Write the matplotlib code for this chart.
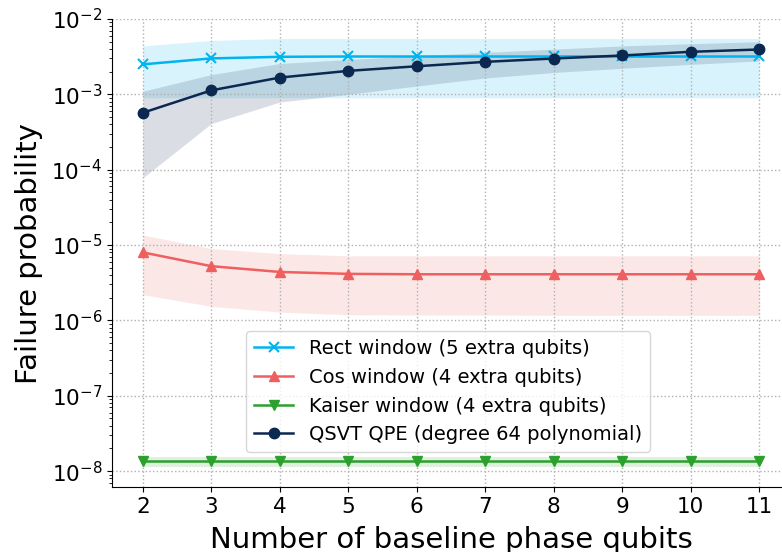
import matplotlib
matplotlib.use("Agg")
import matplotlib.pyplot as plt
import numpy as np

qubits = [2, 3, 4, 5, 6, 7, 8, 9, 10, 11]

rect_mean = [2.5e-3, 3.0e-3, 3.15e-3, 3.18e-3, 3.18e-3, 3.18e-3, 3.18e-3, 3.18e-3, 3.18e-3, 3.18e-3]
rect_hi = [4.4e-3, 5.2e-3, 5.5e-3, 5.5e-3, 5.5e-3, 5.5e-3, 5.5e-3, 5.5e-3, 5.5e-3, 5.5e-3]
rect_lo = [9.0e-4, 9.0e-4, 9.0e-4, 9.0e-4, 9.0e-4, 9.0e-4, 9.0e-4, 9.0e-4, 9.0e-4, 9.0e-4]

cos_mean = [8.0e-6, 5.25e-6, 4.4e-6, 4.15e-6, 4.1e-6, 4.1e-6, 4.1e-6, 4.1e-6, 4.1e-6, 4.1e-6]
cos_hi = [1.36e-5, 9.0e-6, 7.7e-6, 7.2e-6, 7.2e-6, 7.2e-6, 7.2e-6, 7.2e-6, 7.2e-6, 7.2e-6]
cos_lo = [2.2e-6, 1.54e-6, 1.29e-6, 1.19e-6, 1.18e-6, 1.18e-6, 1.17e-6, 1.17e-6, 1.17e-6, 1.17e-6]

kaiser_mean = [1.35e-8] * 10
kaiser_hi = [1.55e-8] * 10
kaiser_lo = [1.15e-8] * 10

qsvt_mean = [5.7e-4, 1.13e-3, 1.67e-3, 2.05e-3, 2.36e-3, 2.7e-3, 2.99e-3, 3.28e-3, 3.67e-3, 3.94e-3]
qsvt_hi = [1.1e-3, 1.83e-3, 2.57e-3, 2.9e-3, 3.25e-3, 3.6e-3, 3.98e-3, 4.4e-3, 4.7e-3, 5.0e-3]
qsvt_lo = [7.8e-5, 4.1e-4, 7.9e-4, 1.0e-3, 1.29e-3, 1.65e-3, 1.95e-3, 2.22e-3, 2.5e-3, 2.78e-3]

labels = ["Rect window (5 extra qubits)", "Cos window (4 extra qubits)",
          "Kaiser window (4 extra qubits)", "QSVT QPE (degree 64 polynomial)"]
colors = ["#00B4F0", "#F05F5F", "#2CA02C", "#0B2850"]
markers = ["x", "^", "v", "o"]

fig = plt.figure(figsize=(7.82, 5.52), dpi=100)
ax = fig.add_axes([112/782, 65/552, (790-112)/782, (487-19)/552])

series = [(rect_mean, rect_lo, rect_hi), (cos_mean, cos_lo, cos_hi),
          (kaiser_mean, kaiser_lo, kaiser_hi), (qsvt_mean, qsvt_lo, qsvt_hi)]
for (m, lo, hi), lab, c, mk in zip(series, labels, colors, markers):
    ax.fill_between(qubits, lo, hi, color=c, alpha=0.15, linewidth=0)
    ax.plot(qubits, m, color=c, marker=mk, markersize=7.5,
            linewidth=1.8, label=lab, markeredgewidth=1.5 if mk == "x" else 1)

ax.set_yscale("log")
ax.set_ylim(10**-8.21, 1e-2)
ax.set_xlim(1.55, 11.45)
ax.set_xticks(qubits)
ax.grid(True, which="major", linestyle=":", color="#b0b0b0", linewidth=1)
ax.spines["top"].set_visible(False)
ax.spines["right"].set_visible(False)
ax.tick_params(axis="both", which="major", labelsize=15.5)
ax.set_xlabel("Number of baseline phase qubits", fontsize=21, labelpad=7)
ax.set_ylabel("Failure probability", fontsize=21, labelpad=6)

ax.legend(loc="lower center", bbox_to_anchor=(448/782, 100/552),
          bbox_transform=fig.transFigure, borderaxespad=0, fontsize=14)

fig.savefig("out.png", dpi=100)
